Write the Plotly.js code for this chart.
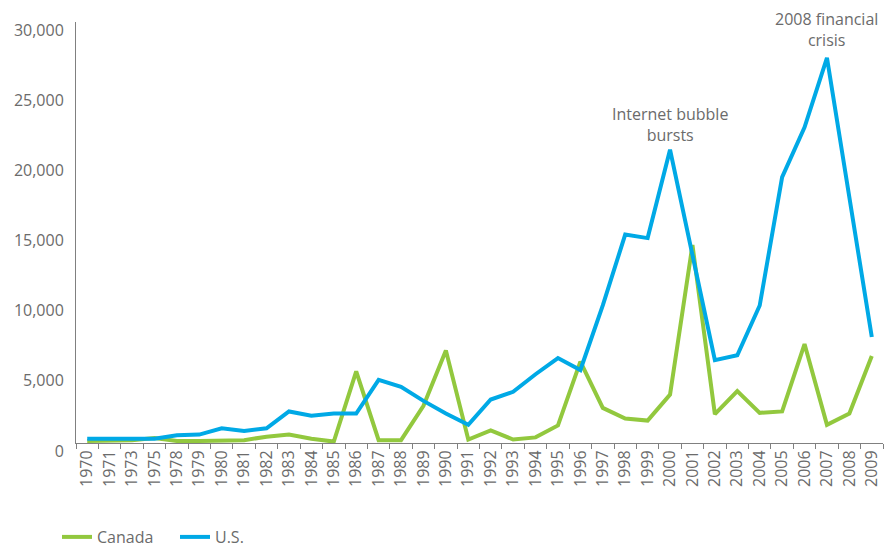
<!DOCTYPE html>
<html>
<head>
<meta charset="utf-8">
<script src="https://cdn.plot.ly/plotly-3.0.1.min.js"></script>
<style>html,body{margin:0;padding:0;background:#fff;}#chart{width:885px;height:554px;}</style>
</head>
<body>
<div id="chart"></div>
<script>
const years = ["1970","1971","1973","1975","1978","1979","1980","1981","1982","1983","1984","1985","1986","1987","1988","1989","1990","1991","1992","1993","1994","1995","1996","1997","1998","1999","2000","2001","2002","2003","2004","2005","2006","2007","2008","2009"];
const canada = [150,200,200,350,150,150,150,200,450,600,300,100,5100,200,200,2650,6600,250,900,250,400,1250,5800,2500,1750,1600,3450,14100,2050,3700,2150,2250,7050,1300,2100,6200];
const us = [300,300,250,300,550,600,1050,850,1050,2250,1950,2100,2100,4500,4000,3000,2100,1300,3100,3650,4900,6050,5200,9800,14850,14600,20900,13300,5900,6250,9800,18950,22500,27450,17700,7550];
const seriesNames = ["Canada","U.S."];
const noteYears = ["2000","2007"];
const noteValues = [22700, 29500];
const noteTexts = ["Internet bubble<br>bursts","2008 financial<br>crisis"];

const grey = "#6b6b6b";
const data = [
  {x: years, y: canada, name: seriesNames[0], type: "scatter", mode: "lines",
   line: {color: "#92c83e", width: 4}},
  {x: years, y: us, name: seriesNames[1], type: "scatter", mode: "lines",
   line: {color: "#00a9e6", width: 4}}
];

const layout = {
  width: 885, height: 554,
  margin: {l: 75.5, r: 2.3, t: 22, b: 111},
  paper_bgcolor: "#fff", plot_bgcolor: "#fff",
  font: {family: "Open Sans, sans-serif", size: 16, color: grey},
  showlegend: true,
  legend: {orientation: "h", xref: "container", x: 57/885, xanchor: "left",
           yref: "container", y: 0, yanchor: "bottom",
           bgcolor: "rgba(0,0,0,0)",
           font: {size: 16, color: grey}, entrywidth: 73, entrywidthmode: "pixels",
           traceorder: "normal"},
  xaxis: {type: "category", categoryorder: "array", categoryarray: years,
          range: [-0.5, 35.5], showline: true, linecolor: "#808080", linewidth: 1,
          ticks: "outside", ticklen: 5, tickcolor: "#808080", tickson: "boundaries",
          tickangle: -90, showgrid: false, zeroline: false, automargin: false,
          tickfont: {size: 16, color: grey}},
  yaxis: {range: [0, 30000], dtick: 5000, tickformat: ",", showline: true,
          linecolor: "#808080", linewidth: 1, ticks: "", showgrid: false, zeroline: false,
          ticklabelshift: 8, ticklabelstandoff: 8, automargin: false,
          tickfont: {size: 16, color: grey}},
  annotations: noteYears.map((yr, i) => ({x: years.indexOf(yr), y: noteValues[i],
          xref: "x", yref: "y", text: noteTexts[i],
          showarrow: false, xanchor: "center", yanchor: "middle",
          font: {size: 16, color: grey}}))
};

Plotly.newPlot("chart", data, layout, {displayModeBar: false, staticPlot: true});
</script>
</body>
</html>
